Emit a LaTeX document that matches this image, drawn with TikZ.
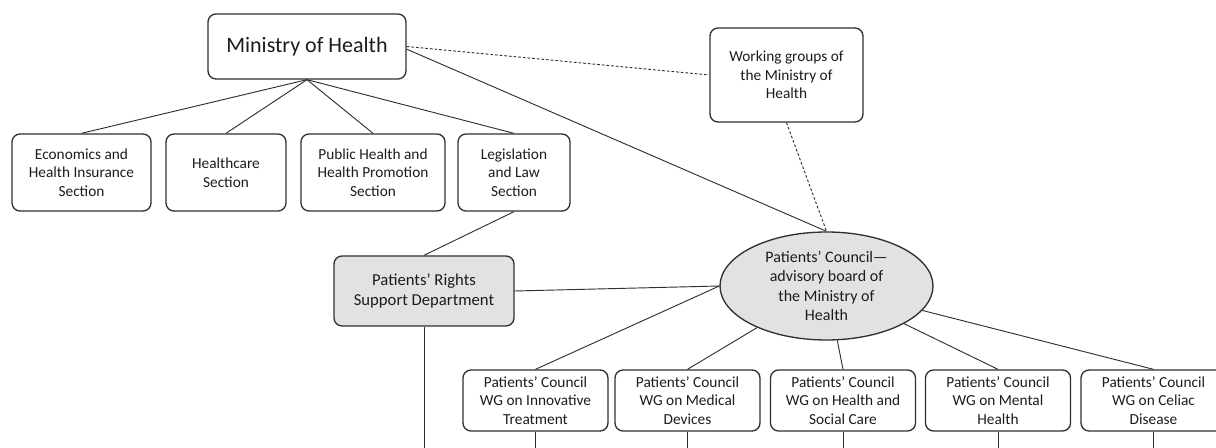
\documentclass[tikz,border=0pt]{standalone}
\usepackage{fontspec}
\setmainfont{Carlito}
\usetikzlibrary{shapes.geometric}
\definecolor{inkgray}{HTML}{303030}
\definecolor{textgray}{HTML}{1C1C1C}
\definecolor{paneGray}{HTML}{E2E2E2}
\tikzset{
  orgbox/.style={draw=inkgray, line width=1pt, rounded corners=6pt, align=center,
    inner sep=0pt, text=textgray, font=\fontsize{11.5}{14}\selectfont},
  wgbox/.style={orgbox, minimum width=108.75pt, minimum height=45.75pt},
  link/.style={draw=inkgray, line width=0.7pt},
  dotlink/.style={link, dash pattern=on 2pt off 1.5pt},
}
\begin{document}
\begin{tikzpicture}[x=0.75pt,y=-0.75pt]
  \useasboundingbox (0,0) rectangle (1216,448);
  \coordinate (bottom) at (0,448);

  % Ministry and its working groups
  \node[orgbox, minimum width=148.5pt, minimum height=48.75pt,
    font=\fontsize{16.5}{20}\selectfont] (moh) at (307,46.5) {Ministry of Health};
  \node[orgbox, minimum width=114.75pt, minimum height=70.5pt] (wgmoh) at (786.5,75)
    {Working groups of\\the Ministry of\\Health};

  % Sections
  \node[orgbox, minimum width=104.25pt, minimum height=57.75pt] (econ) at (81.5,172.5)
    {Economics and\\Health Insurance\\Section};
  \node[orgbox, minimum width=90pt, minimum height=57.75pt] (care) at (226,172.5)
    {Healthcare\\Section};
  \node[orgbox, minimum width=108pt, minimum height=57.75pt] (pubh) at (373,172.5)
    {Public Health and\\Health Promotion\\Section};
  \node[orgbox, minimum width=84pt, minimum height=57.75pt] (legis) at (514,172.5)
    {Legislation\\and Law\\Section};

  % Department and council
  \node[orgbox, fill=paneGray, minimum width=135pt, minimum height=52.5pt,
    font=\fontsize{12.5}{15.5}\selectfont] (rights) at (424,291)
    {Patients’ Rights\\Support Department};
  \node[ellipse, draw=inkgray, line width=1pt, fill=paneGray, align=center, inner sep=0pt,
    text=textgray, font=\fontsize{12}{14.5}\selectfont,
    minimum width=159.75pt, minimum height=81pt] (council) at (826.5,286)
    {Patients’ Council—\\advisory board of\\the Ministry of\\Health};

  % Council working groups
  \node[wgbox] (wginno) at (535.5,400.5) {Patients’ Council\\WG on Innovative\\Treatment};
  \node[wgbox] (wgdev) at (687.5,400.5) {Patients’ Council\\WG on Medical\\Devices};
  \node[wgbox] (wgcare) at (843,400.5) {Patients’ Council\\WG on Health and\\Social Care};
  \node[wgbox] (wgmental) at (998,400.5) {Patients’ Council\\WG on Mental\\Health};
  \node[wgbox] (wgceliac) at (1153.5,400.5) {Patients’ Council\\WG on Celiac\\Disease};

  % Connectors
  \foreach \s in {econ,care,pubh,legis}
    \draw[link] (moh.south) -- (\s.north);
  \draw[dotlink] (moh.east) -- (wgmoh.west);
  \draw[link] ([yshift=-2pt]moh.east) -- (council.north);
  \draw[dotlink] (wgmoh.south) -- (council.north);
  \draw[link] (legis.south) -- (rights.north);
  \draw[link] (rights.east) -- (council.west);
  \draw[link] (rights.south) -- (rights.south |- bottom);
  \draw[link] (council.west) -- (wginno.north);
  \foreach \g in {wgdev,wgcare,wgmental,wgceliac}
    \draw[link] (council) -- (\g.north);

  % Lines running off the bottom edge
  \foreach \g in {wginno,wgdev,wgcare,wgmental,wgceliac}
    \draw[link] (\g.south) -- (\g.south |- bottom);
\end{tikzpicture}
\end{document}
